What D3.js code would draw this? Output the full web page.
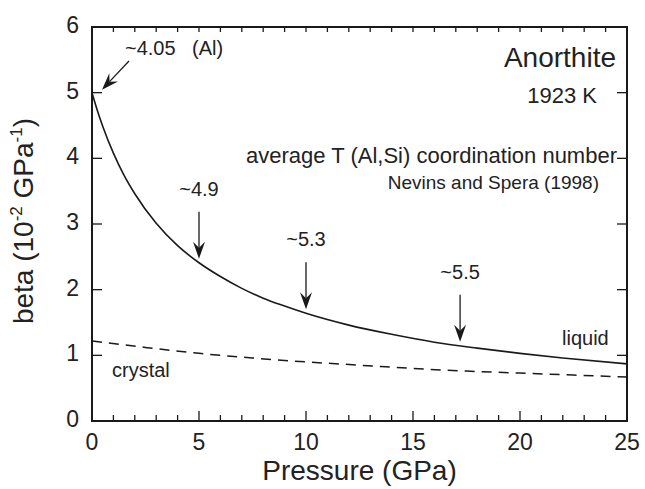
<!DOCTYPE html>
<html lang="en">
<head>
  <meta charset="UTF-8">
  <title>Anorthite beta vs pressure</title>
  <script src="https://d3js.org/d3.v7.min.js"></script>
  <style>
    body { margin: 0; background: #fff; }
    text { font-family: "Liberation Sans", Arial, Helvetica, sans-serif; fill: #222; }
  </style>
</head>
<body>
<svg width="645" height="489"></svg>

<script>
  // liquid curve (Nevins and Spera 1998)
  const liquidP = [0, 0.25, 0.5, 1, 1.5, 2, 3, 4, 5, 6, 7, 8, 9, 10, 12, 14, 16, 18, 20, 22, 25];
  const liquidBeta = [5.0, 4.73, 4.49, 4.08, 3.74, 3.46, 3.01, 2.67, 2.41, 2.20, 2.02, 1.87, 1.75, 1.64,
                      1.46, 1.32, 1.20, 1.11, 1.03, 0.96, 0.87];

  // crystal curve
  const crystalP = [0, 2.5, 5, 7.5, 10, 12.5, 15, 17.5, 20, 22.5, 25];
  const crystalBeta = [1.22, 1.12, 1.03, 0.96, 0.90, 0.85, 0.80, 0.76, 0.73, 0.70, 0.67];

  // coordination number labels along the liquid curve
  const coordP = [5, 10, 17.2];
  const coordLabels = ["~4.9", "~5.3", "~5.5"];

  const xTicks = [0, 5, 10, 15, 20, 25];
  const yTicks = [0, 1, 2, 3, 4, 5, 6];

  const svg = d3.select("svg");

  const x = d3.scaleLinear().domain([0, 25]).range([92, 627]);
  const y = d3.scaleLinear().domain([0, 6]).range([421, 27]);

  const ink = "#1a1a1a";

  // frame
  svg.append("rect")
    .attr("x", x(0)).attr("y", y(6))
    .attr("width", x(25) - x(0)).attr("height", y(0) - y(6))
    .attr("fill", "none").attr("stroke", ink).attr("stroke-width", 2);

  // bottom ticks (minor every 1, major every 5)
  const minorX = d3.range(1, 25);
  svg.append("g").selectAll("line")
    .data(minorX)
    .join("line")
    .attr("x1", d => x(d)).attr("x2", d => x(d))
    .attr("y1", y(0)).attr("y2", d => y(0) - (d % 5 === 0 ? 10 : 6))
    .attr("stroke", ink).attr("stroke-width", 1.3);

  // top ticks
  svg.append("g").selectAll("line")
    .data(minorX)
    .join("line")
    .attr("x1", d => x(d)).attr("x2", d => x(d))
    .attr("y1", y(6)).attr("y2", y(6) + 5)
    .attr("stroke", ink).attr("stroke-width", 1.3);

  // left & right ticks
  const innerY = yTicks.filter(d => d > 0 && d < 6);
  svg.append("g").selectAll("line")
    .data(innerY)
    .join("line")
    .attr("x1", x(0)).attr("x2", x(0) + 10)
    .attr("y1", d => y(d)).attr("y2", d => y(d))
    .attr("stroke", ink).attr("stroke-width", 1.3);
  svg.append("g").selectAll("line")
    .data(innerY)
    .join("line")
    .attr("x1", x(25)).attr("x2", x(25) - 10)
    .attr("y1", d => y(d)).attr("y2", d => y(d))
    .attr("stroke", ink).attr("stroke-width", 1.3);

  // tick labels
  svg.append("g").selectAll("text")
    .data(xTicks)
    .join("text")
    .attr("x", d => x(d)).attr("y", 450)
    .attr("text-anchor", "middle")
    .attr("font-size", 23)
    .text(d => d);

  svg.append("g").selectAll("text")
    .data(yTicks)
    .join("text")
    .attr("x", 79).attr("y", d => y(d) + 6)
    .attr("text-anchor", "end")
    .attr("font-size", 23)
    .text(d => d);

  // axis titles
  svg.append("text")
    .attr("x", (x(0) + x(25)) / 2).attr("y", 480)
    .attr("text-anchor", "middle")
    .attr("font-size", 28)
    .text("Pressure (GPa)");

  const yt = svg.append("text")
    .attr("transform", "translate(33," + 221 + ") rotate(-90)")
    .attr("text-anchor", "middle")
    .attr("font-size", 28);
  yt.append("tspan").text("beta (10");
  yt.append("tspan").attr("font-size", 17).attr("dy", -11).text("-2");
  yt.append("tspan").attr("dy", 11).text(" GPa");
  yt.append("tspan").attr("font-size", 17).attr("dy", -11).text("-1");
  yt.append("tspan").attr("dy", 11).text(")");

  // curves
  const line = d3.line()
    .x(d => x(d[0])).y(d => y(d[1]))
    .curve(d3.curveMonotoneX);

  svg.append("path")
    .datum(liquidP.map((p, i) => [p, liquidBeta[i]]))
    .attr("d", line)
    .attr("fill", "none").attr("stroke", ink).attr("stroke-width", 1.6);

  svg.append("path")
    .datum(crystalP.map((p, i) => [p, crystalBeta[i]]))
    .attr("d", line)
    .attr("fill", "none").attr("stroke", ink).attr("stroke-width", 1.5)
    .attr("stroke-dasharray", "10,7");

  // arrow helper: shaft from (x1,y1) to tip (x2,y2), barbed head
  function arrow(x1, y1, x2, y2) {
    const a = Math.atan2(y2 - y1, x2 - x1);
    const len = 17, half = 6, notch = 11;
    const pt = (d, s) => [x2 - d * Math.cos(a) - s * Math.sin(a), y2 - d * Math.sin(a) + s * Math.cos(a)];
    const p1 = pt(len, half), p2 = pt(notch, 0), p3 = pt(len, -half);
    svg.append("line")
      .attr("x1", x1).attr("y1", y1).attr("x2", p2[0]).attr("y2", p2[1])
      .attr("stroke", ink).attr("stroke-width", 1.3);
    svg.append("path")
      .attr("d", `M${x2},${y2}L${p1}L${p2}L${p3}Z`)
      .attr("fill", ink);
  }

  const liquidAt = p => {
    const i = d3.bisectRight(liquidP, p) - 1;
    const t = (p - liquidP[i]) / (liquidP[i + 1] - liquidP[i]);
    return liquidBeta[i] + t * (liquidBeta[i + 1] - liquidBeta[i]);
  };

  // first label at P = 0
  arrow(129, 61, x(0) + 10, y(liquidBeta[0]) - 3);
  svg.append("text").attr("x", 125).attr("y", 55).attr("font-size", 20).text("~4.05");
  svg.append("text").attr("x", 192).attr("y", 55).attr("font-size", 20).text("(Al)");

  coordP.forEach((p, i) => {
    const tipY = y(liquidAt(p)) - 4;
    arrow(x(p), tipY - 47, x(p), tipY);
    svg.append("text")
      .attr("x", x(p)).attr("y", tipY - 63)
      .attr("text-anchor", "middle")
      .attr("font-size", 20)
      .text(coordLabels[i]);
  });

  // labels
  svg.append("text").attr("x", 616).attr("y", 67).attr("text-anchor", "end")
    .attr("font-size", 28).text("Anorthite");
  svg.append("text").attr("x", 597).attr("y", 103).attr("text-anchor", "end")
    .attr("font-size", 22).text("1923 K");
  svg.append("text").attr("x", 617).attr("y", 163).attr("text-anchor", "end")
    .attr("font-size", 22).text("average T (Al,Si) coordination number");
  svg.append("text").attr("x", 599).attr("y", 189).attr("text-anchor", "end")
    .attr("font-size", 19).text("Nevins and Spera (1998)");
  svg.append("text").attr("x", 562).attr("y", 345)
    .attr("font-size", 20).text("liquid");
  svg.append("text").attr("x", 112).attr("y", 377)
    .attr("font-size", 20).text("crystal");
</script>
</body>
</html>
